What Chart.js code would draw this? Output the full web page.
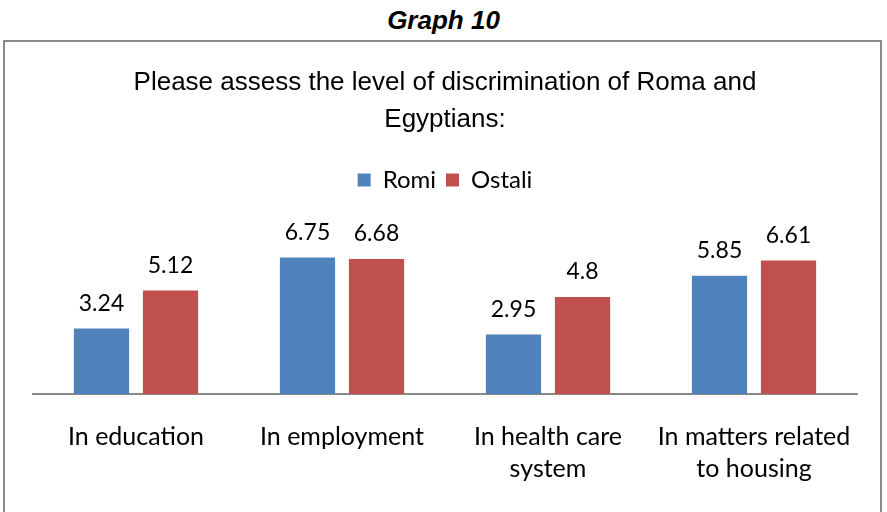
<!DOCTYPE html>
<html>
<head>
<meta charset="utf-8">
<script src="https://cdn.jsdelivr.net/npm/chart.js@4/dist/chart.umd.min.js"></script>
<style>
  body { margin: 0; background: #fff; }
  #naslov { position: absolute; left: 0; top: 5px; width: 887px; text-align: center;
            font: italic bold 26px "Liberation Sans", Arial, sans-serif; color: #000; }
  #okvir { position: absolute; left: 3px; top: 40px; width: 879px; height: 500px;
           border: 2px solid #8a8a8a; box-sizing: border-box; }
  #grafik { position: absolute; left: 0; top: 0; }
</style>
</head>
<body>
<div id="naslov">Graph 10</div>
<div id="okvir"></div>
<canvas id="grafik" width="887" height="512"></canvas>
<script>
// podaci sa grafika
const kategorije = [
    ['In education'],
    ['In employment'],
    ['In health care', 'system'],
    ['In matters related', 'to housing']
]
const romi = [3.24, 6.75, 2.95, 5.85]
const ostali = [5.12, 6.68, 4.8, 6.61]
const romiLabele = ['3.24', '6.75', '2.95', '5.85']
const ostaliLabele = ['5.12', '6.68', '4.8', '6.61']

const calibri = 'Lato, "Open Sans", sans-serif'

/* ispis vrijednosti iznad stubova */
const vrijednostiPlugin = {
    id: 'vrijednosti',
    afterDatasetsDraw(chart) {
        const ctx = chart.ctx
        const labele = [romiLabele, ostaliLabele]
        ctx.save()
        ctx.font = '23px ' + calibri
        ctx.fillStyle = '#000'
        ctx.textAlign = 'center'
        ctx.textBaseline = 'middle'
        chart.data.datasets.forEach((ds, i) => {
            chart.getDatasetMeta(i).data.forEach((bar, j) => {
                ctx.fillText(labele[i][j], bar.x, bar.y - 25)
            })
        })
        ctx.restore()
    }
}

const grafik = new Chart(document.querySelector('#grafik'), {
    type: 'bar',
    data: {
        labels: kategorije,
        datasets: [{
            label: 'Romi',
            data: romi,
            backgroundColor: '#4F81BD',
            categoryPercentage: 0.67,
            barPercentage: 0.8
        }, {
            label: 'Ostali',
            data: ostali,
            backgroundColor: '#C0504D',
            categoryPercentage: 0.67,
            barPercentage: 0.8
        }]
    },
    options: {
        responsive: false,
        animation: false,
        layout: { padding: { left: 33, right: 30, top: 0, bottom: 0 } },
        plugins: {
            title: {
                display: true,
                text: ['Please assess the level of discrimination of Roma and', 'Egyptians:'],
                color: '#000',
                font: { family: '"Liberation Sans", Arial, sans-serif', size: 26, weight: 'normal', lineHeight: 37 / 26 },
                padding: { top: 64, bottom: 20 }
            },
            legend: {
                display: true,
                labels: {
                    color: '#000',
                    font: { family: calibri, size: 24 },
                    boxWidth: 13,
                    boxHeight: 13,
                    padding: 10
                }
            },
            tooltip: { enabled: false }
        },
        scales: {
            x: {
                grid: { display: false, drawTicks: false },
                border: { display: true, color: '#888', width: 2 },
                ticks: {
                    color: '#000',
                    font: { family: calibri, size: 25, lineHeight: 32 / 25 },
                    padding: 27,
                    maxRotation: 0
                }
            },
            y: {
                display: false,
                min: 0,
                max: 9.5
            }
        }
    },
    plugins: [vrijednostiPlugin]
})
</script>
</body>
</html>
